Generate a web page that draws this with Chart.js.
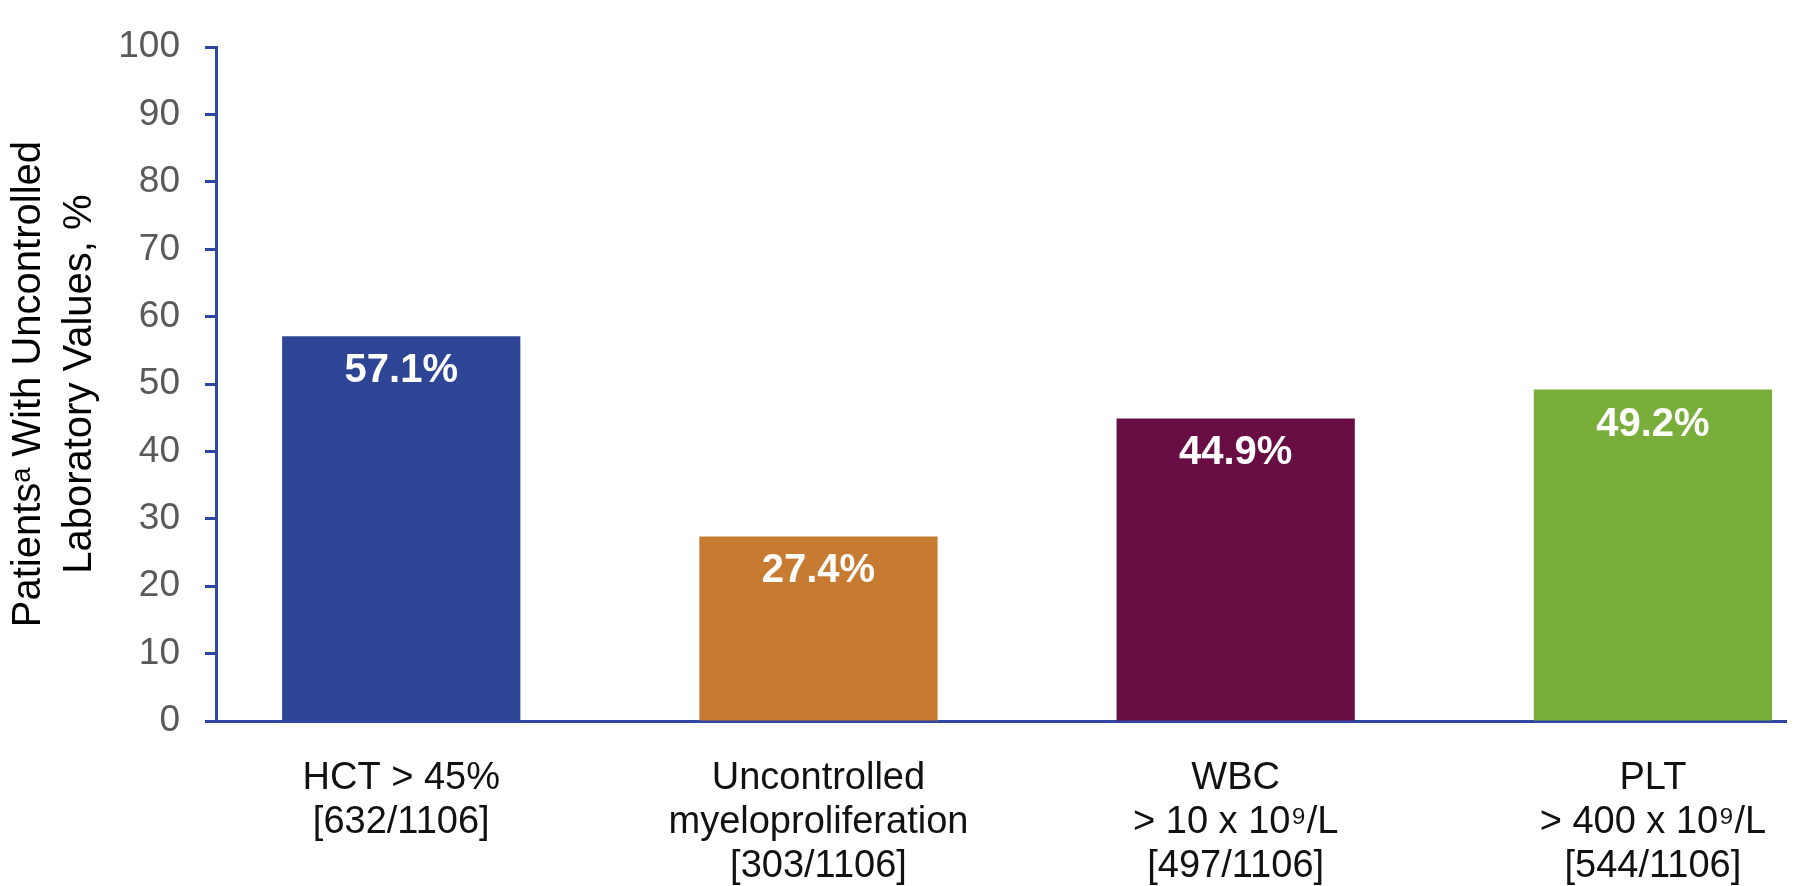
<!DOCTYPE html>
<html lang="en">
<head>
    <meta charset="UTF-8">
    <title>Uncontrolled laboratory values</title>
    <style>
        body { margin: 0; background: #ffffff; }
        #grafico { display: block; }
    </style>
</head>
<body>
    <canvas id="grafico" width="1800" height="886"></canvas>

<script src="https://cdn.jsdelivr.net/npm/chart.js"></script>
<script>
// dados do grafico
const categorias = [
    ['HCT > 45%', '[632/1106]'],
    ['Uncontrolled', 'myeloproliferation', '[303/1106]'],
    ['WBC', '> 10 x 10\u2079/L', '[497/1106]'],
    ['PLT', '> 400 x 10\u2079/L', '[544/1106]']
];
const percentuais = [57.1, 27.4, 44.9, 49.2];
const rotulosBarras = ['57.1%', '27.4%', '44.9%', '49.2%'];
const ticksY = [0, 10, 20, 30, 40, 50, 60, 70, 80, 90, 100];
const tituloY = ['Patients\u1D43 With Uncontrolled', 'Laboratory Values, %'];

const coresBarras = ['#2E4494', '#C67B30', '#690E44', '#7AAE3B'];
const corEixo = '#2F46A2';
const fonte = '"Liberation Sans", Arial, sans-serif';

// rotulos brancos dentro das barras
const rotulosPlugin = {
    id: 'rotulosBarras',
    afterDatasetsDraw(chart) {
        const ctx = chart.ctx;
        const meta = chart.getDatasetMeta(0);
        ctx.save();
        ctx.fillStyle = '#ffffff';
        ctx.font = 'bold 40px ' + fonte;
        ctx.textAlign = 'center';
        ctx.textBaseline = 'middle';
        meta.data.forEach((barra, i) => {
            ctx.fillText(rotulosBarras[i], barra.x, barra.y + 35);
        });
        ctx.restore();
    }
};

const ctx = document.getElementById('grafico').getContext('2d');

new Chart(ctx, {
    type: 'bar',
    data: {
        datasets: [{
            data: percentuais.map((v, i) => ({ x: i, y: v })),
            backgroundColor: coresBarras,
            borderWidth: 0,
            categoryPercentage: 1,
            barPercentage: 0.571
        }]
    },
    options: {
        responsive: false,
        animation: false,
        layout: { padding: { top: 27, right: 14, left: 0, bottom: 0 } },
        plugins: {
            legend: { display: false },
            tooltip: { enabled: false }
        },
        scales: {
            x: {
                type: 'linear',
                bounds: 'data',
                offset: false,
                min: -0.444,
                max: 3.319,
                afterBuildTicks: (scale) => {
                    scale.ticks = categorias.map((c, i) => ({ value: i }));
                },
                afterFit: (scale) => { scale.height = 165; },
                grid: { display: false, offset: false },
                border: { display: true, color: corEixo, width: 3 },
                ticks: {
                    autoSkip: false,
                    maxRotation: 0,
                    padding: 27,
                    color: '#111111',
                    font: { family: fonte, size: 38, lineHeight: 1.16 },
                    callback: (value) => categorias[value]
                }
            },
            y: {
                min: 0,
                max: 100,
                afterBuildTicks: (scale) => {
                    scale.ticks = ticksY.map(v => ({ value: v }));
                },
                afterFit: (scale) => { scale.width = 216; },
                grid: {
                    drawOnChartArea: false,
                    drawTicks: true,
                    tickLength: 11,
                    tickColor: corEixo,
                    tickWidth: 3,
                    color: corEixo
                },
                border: { display: true, color: corEixo, width: 3 },
                ticks: {
                    padding: 25,
                    color: '#595959',
                    font: { family: fonte, size: 37 }
                },
                title: {
                    display: true,
                    text: tituloY,
                    color: '#000000',
                    padding: { top: 4, bottom: 0 },
                    font: { family: fonte, size: 40, lineHeight: 1.27 }
                }
            }
        }
    },
    plugins: [rotulosPlugin]
});
</script>
</body>
</html>
